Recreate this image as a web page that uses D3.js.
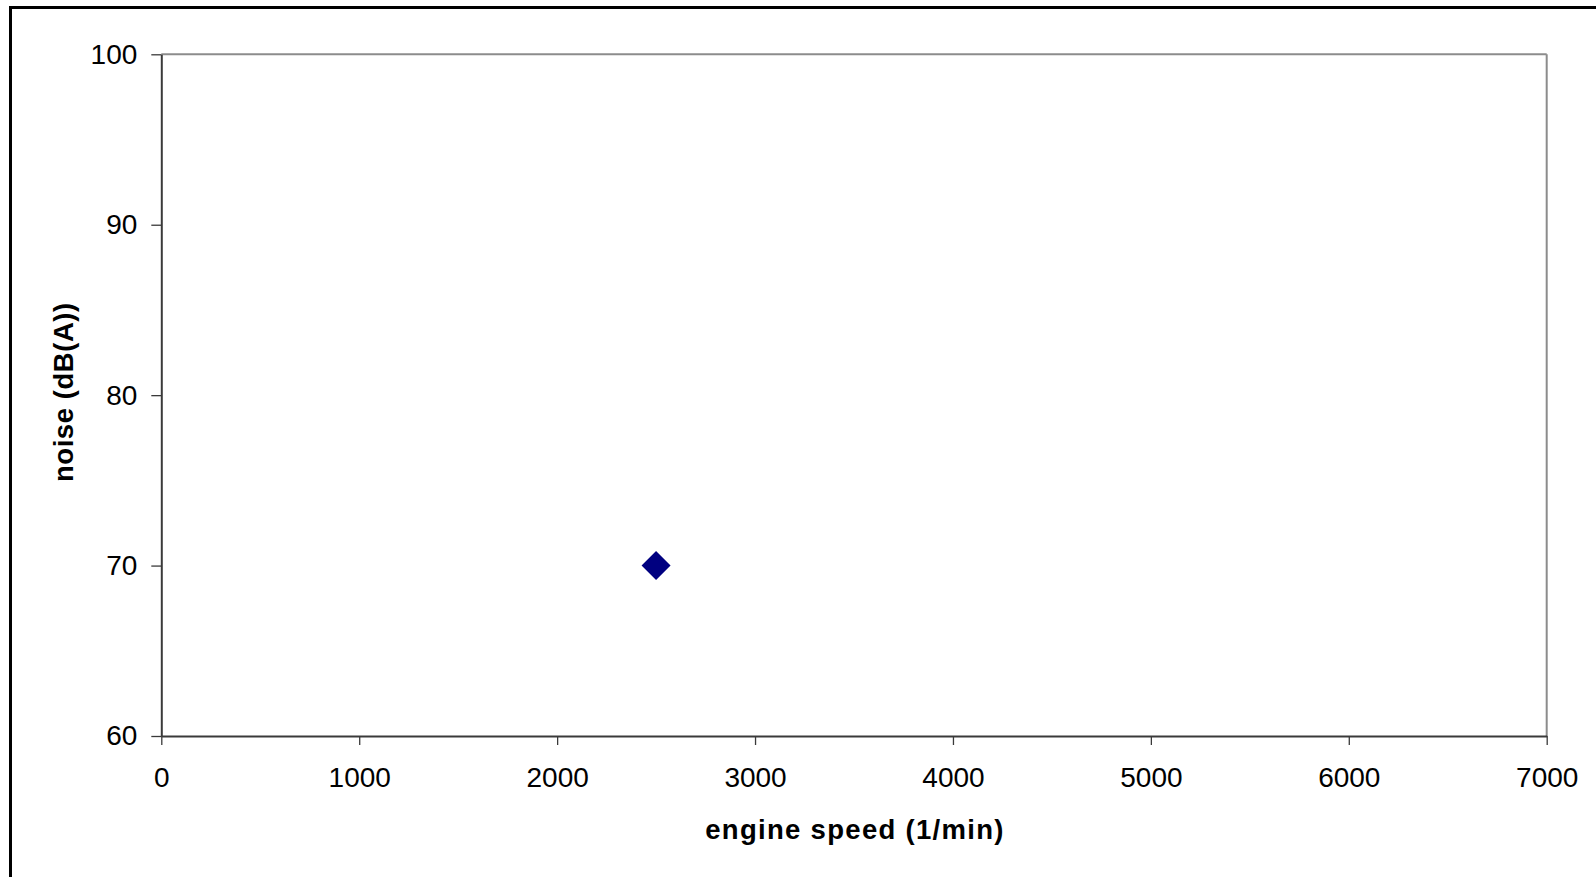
<!DOCTYPE html>
<html>
<head>
<meta charset="utf-8">
<script src="https://cdn.jsdelivr.net/npm/d3@7"></script>
<style>
html,body{margin:0;padding:0;background:#fff;overflow:hidden;}
svg{display:block;font-family:"Liberation Sans",Arial,sans-serif;}
</style>
</head>
<body>
<svg id="chart" width="1596" height="877"></svg>
<script>
const xTicks = [0,1000,2000,3000,4000,5000,6000,7000];
const yTicks = [60,70,80,90,100];
const speeds = [2500];
const noise = [70];
const xTitle = "engine speed (1/min)";
const yTitle = "noise (dB(A))";

const svg = d3.select("#chart");
const W = 1596, H = 877;
const m = {left:161.3, top:54.3, right:1546.7, bottom:736};

// outer frame (clipped right/bottom)
svg.append("rect").attr("x",10.5).attr("y",7.5).attr("width",W).attr("height",H)
  .attr("fill","#fff").attr("stroke","#000").attr("stroke-width",3);

const x = d3.scaleLinear().domain([0,7000]).range([m.left,m.right]);
const y = d3.scaleLinear().domain([60,100]).range([m.bottom,m.top]);

// plot area border (top/right gray)
svg.append("line").attr("x1",m.left).attr("x2",m.right).attr("y1",m.top).attr("y2",m.top)
  .attr("stroke","#8c8c8c").attr("stroke-width",2);
svg.append("line").attr("x1",m.right).attr("x2",m.right).attr("y1",m.top).attr("y2",m.bottom)
  .attr("stroke","#8c8c8c").attr("stroke-width",2);

const xAxis = svg.append("g").attr("transform",`translate(0,${m.bottom})`)
  .call(d3.axisBottom(x).tickValues(xTicks).tickSize(9).tickSizeOuter(0).tickPadding(22).tickFormat(d3.format("d")));
const yAxis = svg.append("g").attr("transform",`translate(${m.left},0)`)
  .call(d3.axisLeft(y).tickValues(yTicks).tickSize(10).tickSizeOuter(0).tickPadding(14).tickFormat(d3.format("d")));

[xAxis,yAxis].forEach(a=>{
  a.select(".domain").attr("stroke","#3a3a3a").attr("stroke-width",2);
  a.selectAll(".tick line").attr("stroke","#3a3a3a").attr("stroke-width",1.3);
  a.selectAll(".tick text").attr("font-size",28).attr("fill","#000")
    .attr("font-family","'Liberation Sans',Arial,sans-serif");
});
yAxis.selectAll(".tick text").attr("x",-24);

// diamond markers
const sym = d3.symbol().type(d3.symbolSquare).size(20.5*20.5);
svg.append("g").selectAll("path").data(speeds.map((s,i)=>[s,noise[i]])).join("path")
  .attr("d",sym)
  .attr("transform",d=>`translate(${x(d[0])},${y(d[1])}) rotate(45)`)
  .attr("fill","#000080");

// axis titles
svg.append("text").attr("x",(m.left+m.right)/2+1).attr("y",839)
  .attr("text-anchor","middle").attr("font-size",27.5).attr("font-weight","bold")
  .attr("letter-spacing","1.3px").text(xTitle);
svg.append("text").attr("transform",`translate(72.5,${(m.top+m.bottom)/2-3}) rotate(-90)`)
  .attr("text-anchor","middle").attr("font-size",27.5).attr("font-weight","bold")
  .attr("letter-spacing","0.55px").text(yTitle);
</script>
</body>
</html>
